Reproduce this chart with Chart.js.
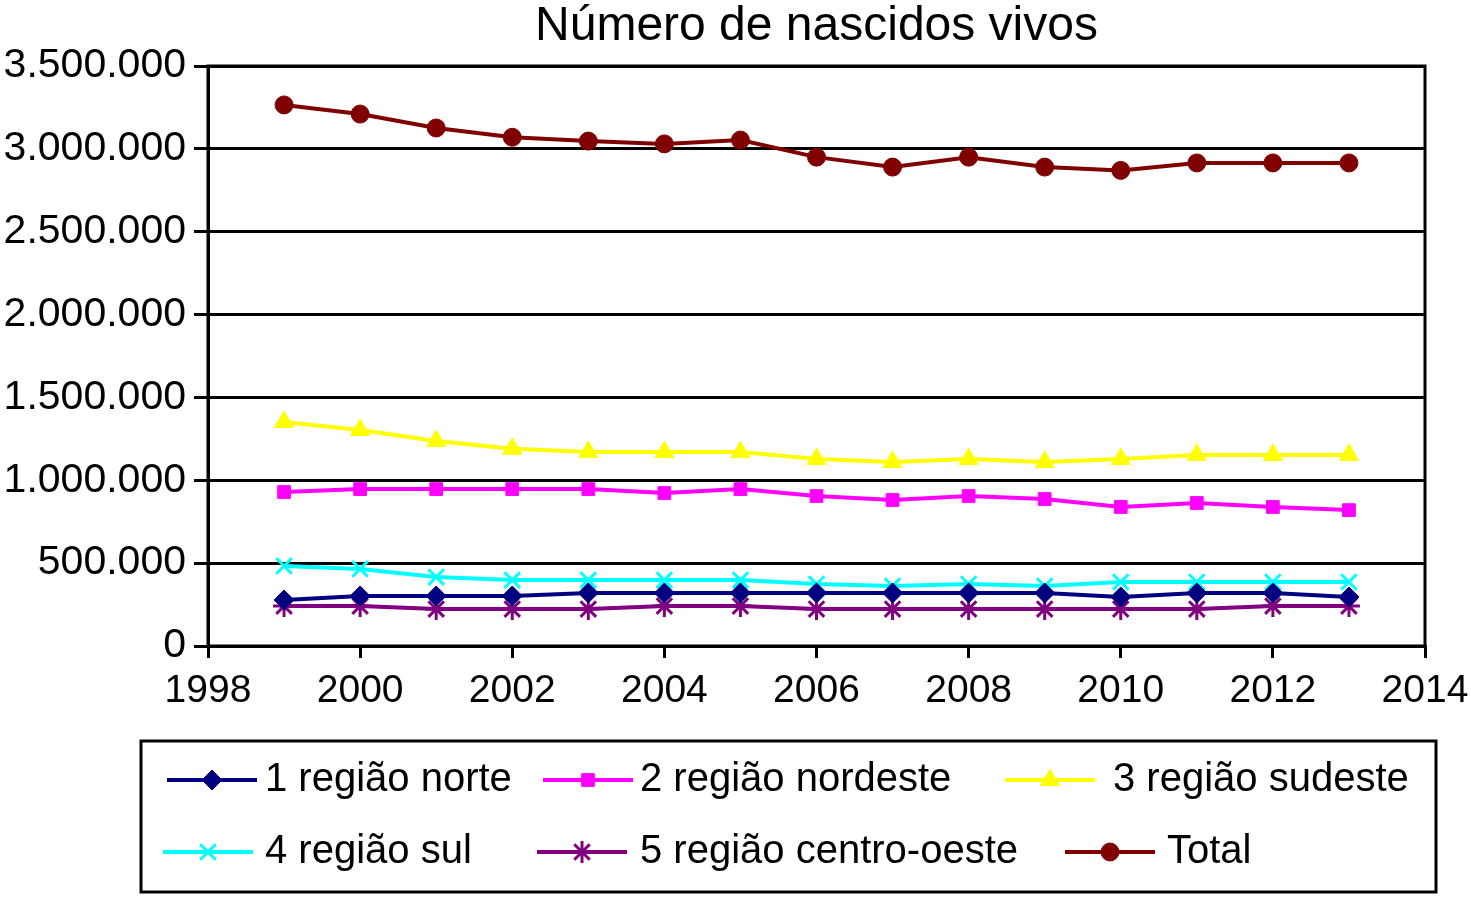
<!DOCTYPE html>
<html lang="pt">
<head>
<meta charset="UTF-8">
<title>Número de nascidos vivos</title>
<script src="https://cdn.jsdelivr.net/npm/chart.js"></script>
<style>
  body { margin: 0; background: #fff; }
</style>
</head>
<body>
<canvas id="nascidos" width="1471" height="898"></canvas>
<script>
    const anos = [1999, 2000, 2001, 2002, 2003, 2004, 2005, 2006, 2007, 2008, 2009, 2010, 2011, 2012, 2013];
    const norte = [278000, 302000, 302000, 302000, 320000, 320000, 320000, 320000, 320000, 320000, 320000, 296000, 320000, 320000, 296000];
    const nordeste = [929000, 947000, 947000, 947000, 947000, 923000, 947000, 905000, 881000, 905000, 887000, 839000, 863000, 839000, 820000];
    const sudeste = [1352000, 1303000, 1237000, 1190000, 1170000, 1170000, 1170000, 1128000, 1110000, 1128000, 1110000, 1128000, 1153000, 1153000, 1153000];
    const sul = [483000, 465000, 416000, 398000, 398000, 398000, 398000, 374000, 362000, 374000, 362000, 386000, 386000, 386000, 386000];
    const centroOeste = [241000, 241000, 223000, 223000, 223000, 241000, 241000, 223000, 223000, 223000, 223000, 223000, 223000, 241000, 241000];
    const total = [3265000, 3210000, 3126000, 3070000, 3047000, 3030000, 3053000, 2950000, 2890000, 2950000, 2890000, 2870000, 2915000, 2915000, 2915000];

    const FONT = 'Liberation Sans, Arial, sans-serif';
    const TITULO = 'Número de nascidos vivos';

    function serie(label, valores, cor, estilo, raio) {
        return {
            label: label,
            data: anos.map((a, i) => ({ x: a, y: valores[i] })),
            borderColor: cor,
            backgroundColor: cor,
            borderWidth: 4,
            pointStyle: estilo,
            pointRadius: raio,
            pointBorderWidth: estilo === 'crossRot' || estilo === 'star' ? 3 : 1,
            pointBorderColor: cor,
            tension: 0
        };
    }

    const datasets = [
        serie('1 região norte', norte, '#000080', 'rectRot', 10),
        serie('2 região nordeste', nordeste, '#ff00ff', 'rect', 9),
        serie('3 região sudeste', sudeste, '#ffff00', 'triangle', 11),
        serie('4 região sul', sul, '#00ffff', 'crossRot', 11),
        serie('5 região centro-oeste', centroOeste, '#800080', 'star', 11),
        serie('Total', total, '#800000', 'circle', 9)
    ];

    // posições da legenda (linha x inicial, texto x, linha y)
    const legendaPos = [
        { x: 167, tx: 265, y: 780 },
        { x: 543, tx: 640, y: 780 },
        { x: 1005, tx: 1113, y: 780 },
        { x: 163, tx: 265, y: 852 },
        { x: 537, tx: 640, y: 852 },
        { x: 1065, tx: 1167, y: 852 }
    ];

    const moldura = {
        id: 'moldura',
        afterDraw(chart) {
            const c = chart.ctx;
            const a = chart.chartArea;
            c.save();
            c.strokeStyle = '#000';
            c.lineWidth = 3;
            c.strokeRect(a.left, a.top, a.right - a.left, a.bottom - a.top);

            // título centrado sobre a área do gráfico
            c.fillStyle = '#000';
            c.font = '48px ' + FONT;
            c.textAlign = 'center';
            c.textBaseline = 'middle';
            c.fillText(TITULO, (a.left + a.right) / 2, 27);

            // legenda com caixa
            c.strokeRect(141, 741, 1295, 151);
            c.font = '40px ' + FONT;
            c.textAlign = 'left';
            chart.data.datasets.forEach((ds, i) => {
                const p = legendaPos[i];
                c.strokeStyle = ds.borderColor;
                c.lineWidth = 4;
                c.beginPath();
                c.moveTo(p.x, p.y);
                c.lineTo(p.x + 90, p.y);
                c.stroke();
                if (Chart.helpers && Chart.helpers.drawPoint) {
                    c.fillStyle = ds.backgroundColor;
                    c.strokeStyle = ds.borderColor;
                    c.lineWidth = ds.pointBorderWidth;
                    Chart.helpers.drawPoint(c, { pointStyle: ds.pointStyle, radius: ds.pointRadius, rotation: 0, borderWidth: ds.pointBorderWidth }, p.x + 45, p.y);
                }
                c.fillStyle = '#000';
                c.fillText(ds.label, p.tx, p.y);
            });
            c.restore();
        }
    };

    new Chart(document.getElementById('nascidos').getContext('2d'), {
        type: 'line',
        data: { datasets: datasets },
        options: {
            responsive: false,
            animation: false,
            layout: { padding: { left: 0, right: 46, top: 66, bottom: 172 } },
            plugins: {
                legend: { display: false },
                tooltip: { enabled: false },
                title: { display: false }
            },
            scales: {
                x: {
                    type: 'linear',
                    min: 1998,
                    max: 2014,
                    ticks: {
                        stepSize: 2,
                        color: '#000',
                        font: { family: FONT, size: 39 },
                        padding: 10,
                        maxRotation: 0,
                        callback: v => String(v)
                    },
                    grid: { drawOnChartArea: false, drawTicks: true, tickLength: 12, color: '#000', lineWidth: 3 },
                    border: { color: '#000', width: 3 },
                    afterFit: s => { s.height = 80; s.paddingRight = 0; s.paddingLeft = 0; }
                },
                y: {
                    min: 0,
                    max: 3500000,
                    ticks: {
                        stepSize: 500000,
                        color: '#000',
                        font: { family: FONT, size: 41 },
                        padding: 8,
                        callback: v => String(v).replace(/\B(?=(\d{3})+(?!\d))/g, '.')
                    },
                    grid: { color: '#000', lineWidth: 3, tickLength: 14 },
                    border: { color: '#000', width: 3 },
                    afterFit: s => { s.width = 208; }
                }
            }
        },
        plugins: [moldura]
    });
</script>
</body>
</html>
